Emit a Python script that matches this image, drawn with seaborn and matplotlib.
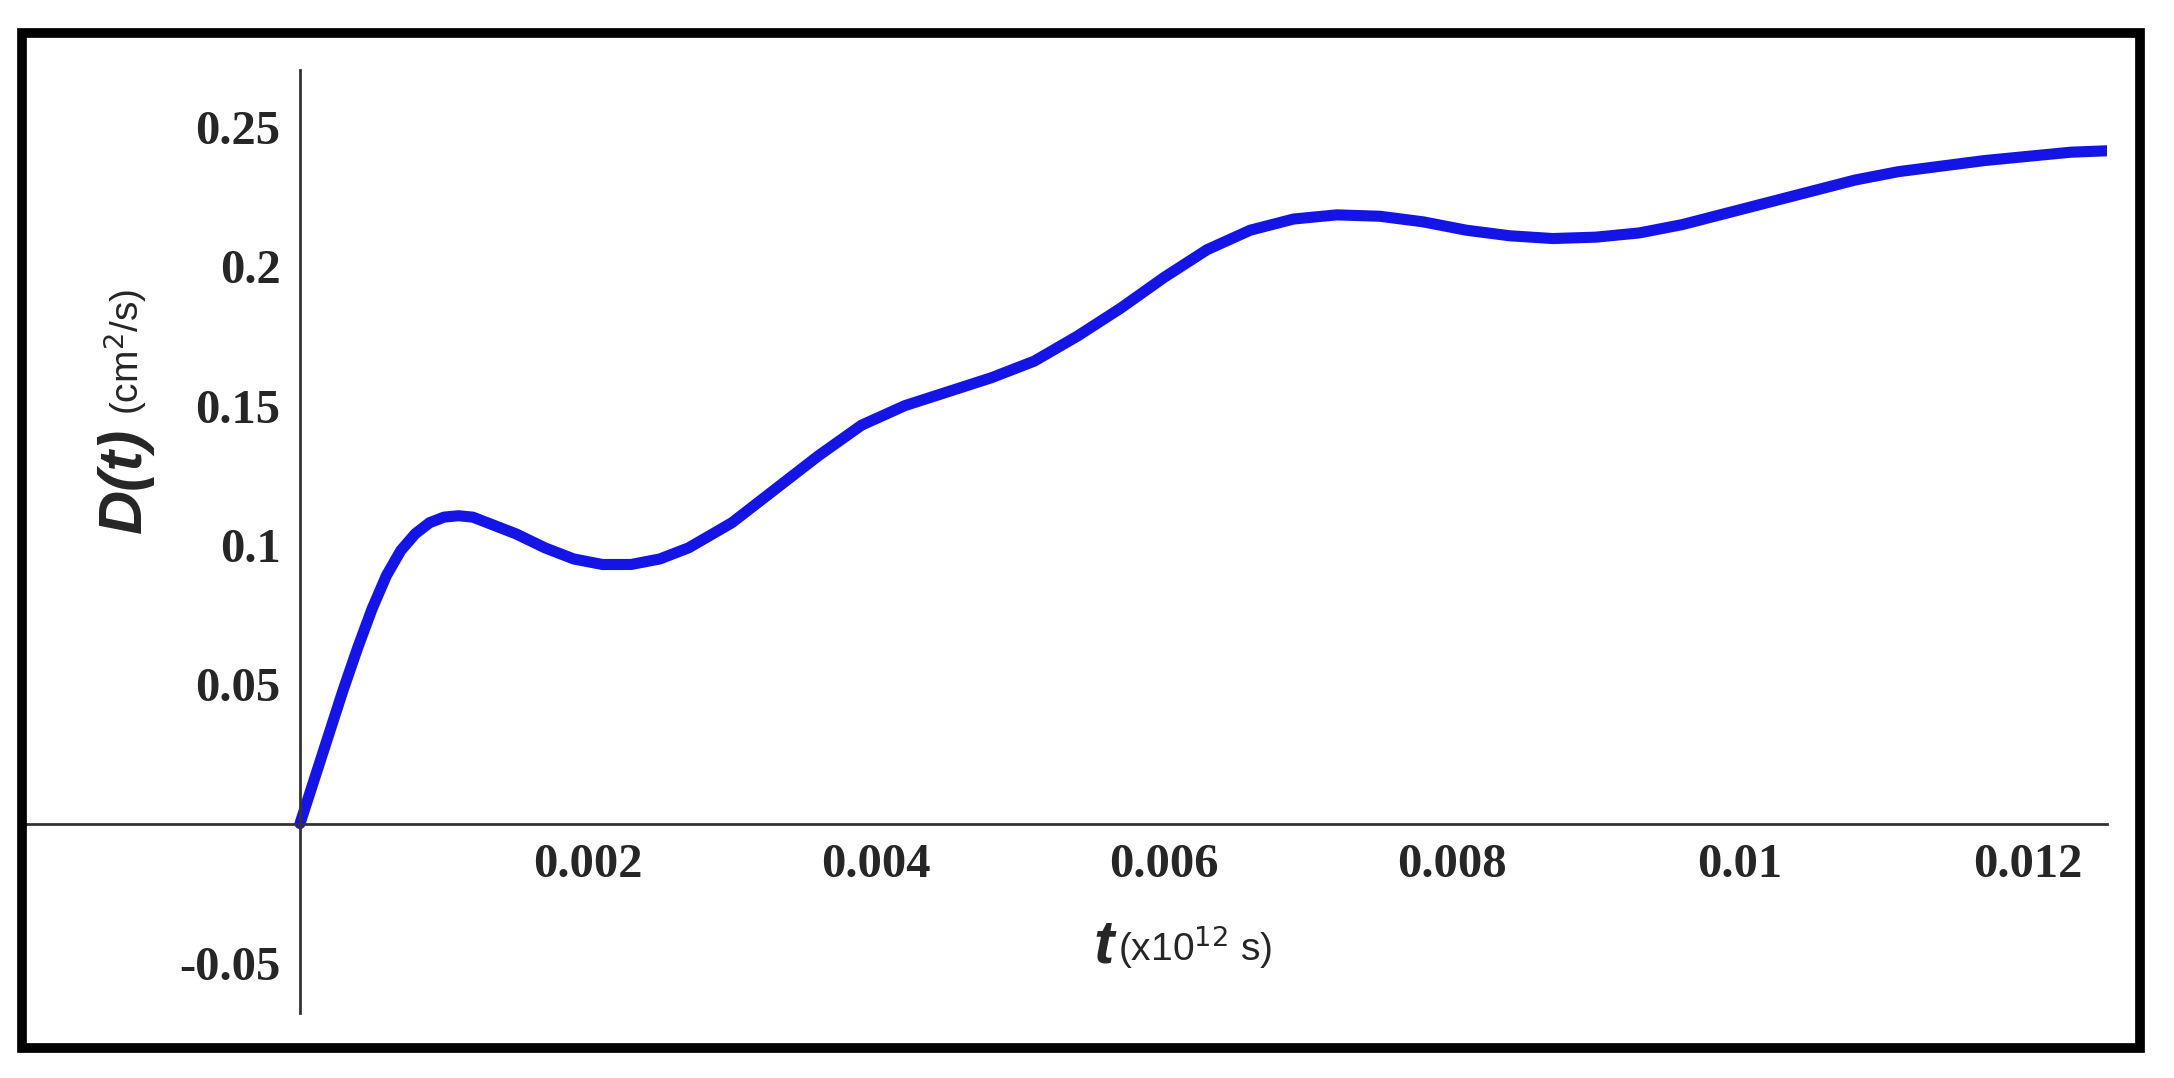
import matplotlib
matplotlib.use("Agg")
import matplotlib.pyplot as plt
import seaborn as sns
import pandas as pd
from matplotlib.patches import Rectangle

t_vals = [0, 0.0001, 0.0002, 0.0003, 0.0004, 0.0005, 0.0006, 0.0007, 0.0008, 0.0009, 0.001,
          0.0011, 0.0012, 0.0013, 0.0015, 0.0017, 0.0019, 0.0021, 0.0023, 0.0025, 0.0027,
          0.003, 0.0033, 0.0036, 0.0039, 0.0042, 0.0045, 0.0048, 0.0051, 0.0054, 0.0057,
          0.006, 0.0063, 0.0066, 0.0069, 0.0072, 0.0075, 0.0078, 0.0081, 0.0084, 0.0087,
          0.009, 0.0093, 0.0096, 0.0099, 0.0102, 0.0105, 0.0108, 0.0111, 0.0114, 0.0117,
          0.012, 0.0123, 0.01255]
d_vals = [0.0, 0.016, 0.032, 0.048, 0.063, 0.077, 0.089, 0.098, 0.104, 0.108, 0.110,
          0.1105, 0.110, 0.108, 0.104, 0.099, 0.095, 0.093, 0.093, 0.095, 0.099,
          0.108, 0.120, 0.132, 0.143, 0.150, 0.155, 0.160, 0.166, 0.175, 0.185,
          0.196, 0.206, 0.213, 0.217, 0.2185, 0.218, 0.216, 0.213, 0.211, 0.210,
          0.2105, 0.212, 0.215, 0.219, 0.223, 0.227, 0.231, 0.234, 0.236, 0.238,
          0.2395, 0.241, 0.2415]
x_ticks = [0.002, 0.004, 0.006, 0.008, 0.01, 0.012]
x_tick_labels = ["0.002", "0.004", "0.006", "0.008", "0.01", "0.012"]
y_ticks = [-0.05, 0.05, 0.1, 0.15, 0.2, 0.25]
y_tick_labels = ["-0.05", "0.05", "0.1", "0.15", "0.2", "0.25"]

sns.set_style("white")
df = pd.DataFrame({"t": t_vals, "D": d_vals})

fig = plt.figure(figsize=(21.74, 10.78), dpi=100)
ax = fig.add_axes([25/2174, 65/1078, 2082/2174, 943/1078])
sns.lineplot(data=df, x="t", y="D", ax=ax, color="#1414e6", linewidth=8,
             solid_capstyle="round", solid_joinstyle="round")

ax.set_xlim(-0.00191, 0.01255)
ax.set_ylim(-0.068, 0.2705)
for s in ["top", "right"]:
    ax.spines[s].set_visible(False)
ax.spines["left"].set_position(("data", 0))
ax.spines["bottom"].set_position(("data", 0))
for s in ["left", "bottom"]:
    ax.spines[s].set_color("#333333")
    ax.spines[s].set_linewidth(2)

serif = {"family": "Liberation Serif", "weight": "bold", "size": 35}
ax.set_xticks(x_ticks)
ax.set_xticklabels(x_tick_labels, fontdict=serif)
ax.set_yticks(y_ticks)
ax.set_yticklabels(y_tick_labels, fontdict=serif)
ax.tick_params(direction="inout", length=12, width=1.2, color="#555555", pad=8)
ax.set_xlabel("")
ax.set_ylabel("")

yl = 1 - 947/1078
fig.text(1093/2174, yl, "t", fontsize=44, ha="left", va="center",
         family="Liberation Sans", weight="bold", style="italic")
fig.text(1118/2174, yl, r"(x10$^{12}$ s)", fontsize=28, ha="left", va="center",
         family="Liberation Sans")
fig.text(125/2174, 1 - 480/1078, "D(t)", fontsize=44, rotation=90, ha="center", va="center",
         family="Liberation Sans", weight="bold", style="italic")
fig.text(125/2174, 1 - 415/1078, r"(cm$^{2}$/s)", fontsize=28, rotation=90, ha="center", va="bottom",
         family="Liberation Sans")

fig.patches.append(Rectangle((22/2174, 30/1078), 2118/2174, 1015/1078, transform=fig.transFigure,
                             fill=False, edgecolor="black", linewidth=7))
fig.savefig("out.png", dpi=100)
